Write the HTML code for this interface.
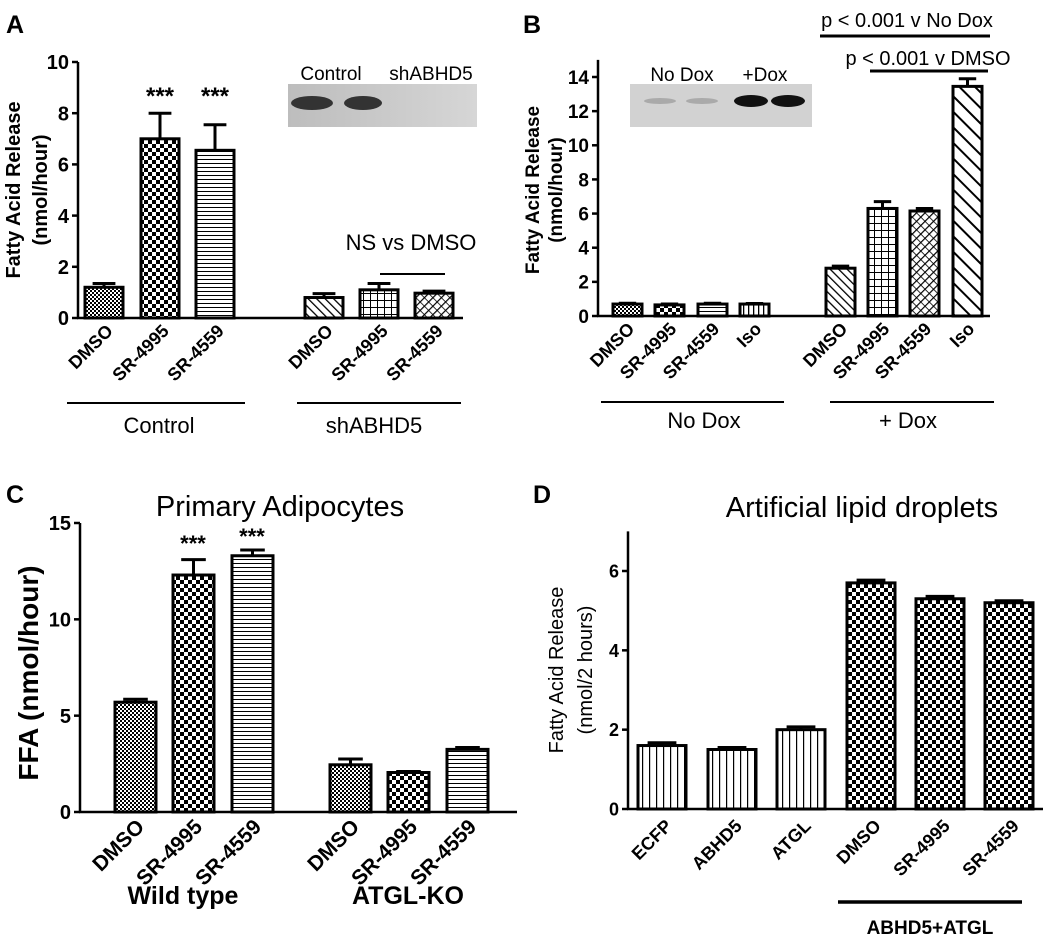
<!DOCTYPE html>
<html><head><meta charset="utf-8">
<style>
html,body{margin:0;padding:0;background:#fff;}
svg{display:block;font-family:"Liberation Sans",Arial,sans-serif;}
</style></head>
<body>
<svg id="fig" width="1050" height="939" viewBox="0 0 1050 939" xmlns="http://www.w3.org/2000/svg">
<defs>
<pattern id="pSmallCheck" width="4" height="4" patternUnits="userSpaceOnUse"><rect width="4" height="4" fill="#fff"/><rect width="2" height="2" fill="#000"/><rect x="2" y="2" width="2" height="2" fill="#000"/></pattern>
<pattern id="pBigCheck" width="8" height="8" patternUnits="userSpaceOnUse"><rect width="8" height="8" fill="#fff"/><rect width="4" height="4" fill="#000"/><rect x="4" y="4" width="4" height="4" fill="#000"/></pattern>
<pattern id="pHLines" width="4" height="4" patternUnits="userSpaceOnUse"><rect width="4" height="4" fill="#fff"/><rect y="3" width="4" height="1" fill="#000"/></pattern>
<pattern id="pVLines" width="7" height="7" patternUnits="userSpaceOnUse"><rect width="7" height="7" fill="#fff"/><rect x="5" width="1.2" height="7" fill="#000"/></pattern>
<pattern id="pVLinesB" width="5" height="5" patternUnits="userSpaceOnUse"><rect width="5" height="5" fill="#fff"/><rect x="3" width="1.3" height="5" fill="#000"/></pattern>
<pattern id="pDiagDown" width="6" height="6" patternUnits="userSpaceOnUse" patternTransform="rotate(-45)"><rect width="6" height="6" fill="#fff"/><rect width="1.3" height="6" fill="#000"/></pattern>
<pattern id="pDiagBig" width="11" height="11" patternUnits="userSpaceOnUse" patternTransform="rotate(-45)"><rect width="11" height="11" fill="#fff"/><rect width="2" height="11" fill="#000"/></pattern>
<pattern id="pCross" width="6" height="6" patternUnits="userSpaceOnUse" patternTransform="rotate(45)"><rect width="6" height="6" fill="#fff"/><rect width="1.2" height="6" fill="#000"/><rect width="6" height="0.8" fill="#000"/></pattern>
<pattern id="pGrid" width="7" height="7" patternUnits="userSpaceOnUse"><rect width="7" height="7" fill="#fff"/><rect x="6" width="1.2" height="7" fill="#000"/><rect y="6" width="7" height="1.2" fill="#000"/></pattern>
<linearGradient id="blotA" x1="0" x2="1" y1="0" y2="0"><stop offset="0" stop-color="#bdbdbd"/><stop offset="1" stop-color="#d6d6d6"/></linearGradient>
</defs>
<g id="layer"></g>
</svg>
<script>
// ---- Panel A data ----
const aCats = ["DMSO","SR-4995","SR-4559","DMSO","SR-4995","SR-4559"];
const aVals = [1.2, 7.0, 6.55, 0.8, 1.1, 0.97];
const aErrs = [0.15, 1.0, 1.0, 0.15, 0.25, 0.08];
const aTicks = [0,2,4,6,8,10];
// ---- Panel B data ----
const bCats = ["DMSO","SR-4995","SR-4559","Iso","DMSO","SR-4995","SR-4559","Iso"];
const bVals = [0.7, 0.65, 0.7, 0.7, 2.8, 6.3, 6.15, 13.45];
const bErrs = [0.05, 0.05, 0.05, 0.03, 0.12, 0.4, 0.15, 0.45];
const bTicks = [0,2,4,6,8,10,12,14];
// ---- Panel C data ----
const cCats = ["DMSO","SR-4995","SR-4559","DMSO","SR-4995","SR-4559"];
const cVals = [5.7, 12.3, 13.3, 2.45, 2.05, 3.25];
const cErrs = [0.15, 0.8, 0.3, 0.3, 0.05, 0.1];
const cTicks = [0,5,10,15];
// ---- Panel D data ----
const dCats = ["ECFP","ABHD5","ATGL","DMSO","SR-4995","SR-4559"];
const dVals = [1.6, 1.5, 2.0, 5.7, 5.3, 5.2];
const dErrs = [0.07, 0.05, 0.07, 0.07, 0.06, 0.05];
const dTicks = [0,2,4,6];

const NS = "http://www.w3.org/2000/svg";
const layer = document.getElementById('layer');
function el(tag, attrs, parent, text){
  const e = document.createElementNS(NS, tag);
  for (const k in attrs) e.setAttribute(k, attrs[k]);
  if (text !== undefined) e.textContent = text;
  (parent || layer).appendChild(e);
  return e;
}
function txt(x,y,s,size,weight,anchor,name,rot){
  const t = el('text',{x:x,y:y,'font-size':size,'font-weight':weight||'normal','text-anchor':anchor||'middle'},null,s);
  if (rot!==undefined) t.setAttribute('transform','rotate('+rot+' '+x+' '+y+')');
  
  
  return t;
}
function line(x1,y1,x2,y2,w,name){
  const l = el('line',{x1:x1,y1:y1,x2:x2,y2:y2,stroke:'#000','stroke-width':w});
  
  
  return l;
}

function panel(o){
  const yScale = v => o.y0 - v * (o.y0 - o.yTop) / o.vTop;
  line(o.ax, yScale(o.axisMax), o.ax, o.y0+1, 2.5, o.id+'-y-axis');
  line(o.ax-1, o.y0, o.axEnd, o.y0, 2.5, o.id+'-x-axis');
  o.ticks.forEach(t=>{
    line(o.ax-6, yScale(t), o.ax, yScale(t), 2.5, o.id+'-y-tick');
    txt(o.ax-9, yScale(t)+o.tickSize*0.36, String(t), o.tickSize, 'bold', 'end', o.id+'-y-tick-label');
  });
  o.vals.forEach((v,i)=>{
    const x0 = o.bx[i], w = o.bw;
    const cx = x0 + w/2;
    const ye = yScale(v + o.errs[i]);
    line(cx, ye, cx, yScale(v), 3, o.id+'-error-bar');
    line(cx - w*0.3, ye, cx + w*0.3, ye, 3, o.id+'-error-cap');
    const r = el('rect',{x:x0, y:yScale(v), width:w, height:o.y0-yScale(v), fill:'url(#'+o.fills[i]+')', stroke:'#000','stroke-width':3});
    
    
    txt(cx+o.lblDx, o.y0+o.lblDy, o.cats[i], o.lblSize, 'bold', 'end', o.id+'-x-label', -45);
  });
  return yScale;
}

// Panel A
txt(6,33,'A',25,'bold','start','panel-a-letter');
panel({id:'a', ax:78, axEnd:463, y0:318, yTop:62, vTop:10, axisMax:10, ticks:aTicks, tickSize:20,
  vals:aVals, errs:aErrs, cats:aCats, bx:[85,141,196,305,360,415], bw:38,
  fills:['pSmallCheck','pBigCheck','pHLines','pDiagDown','pGrid','pCross'], lblDx:10, lblDy:14, lblSize:18});
txt(20,190,'Fatty Acid Release',20,'bold','middle','a-y-axis-title',-90);
txt(47,190,'(nmol/hour)',20,'bold','middle','a-y-axis-subtitle',-90);
[141,196].forEach(x=>txt(x+19, 104,'***',24,'bold','middle','a-significance-stars'));
let r = el('rect',{x:288,y:84,width:189,height:43,fill:'url(#blotA)'});
 
[[312,21],[363,19]].forEach(b=>{const e=el('ellipse',{cx:b[0],cy:103,rx:b[1],ry:7,fill:'#333'});});
txt(331,80,'Control',19,'normal','middle','a-blot-label-control');
txt(431,80,'shABHD5',19,'normal','middle','a-blot-label-shabhd5');
txt(411,250,'NS vs DMSO',22,'normal','middle','a-ns-label');
line(380,274,445,274,2,'a-ns-bracket');
line(67,403,245,403,2,'a-group-line-control');
line(297,403,461,403,2,'a-group-line-shabhd5');
txt(159,433,'Control',22,'normal','middle','a-group-label-control');
txt(374,433,'shABHD5',22,'normal','middle','a-group-label-shabhd5');

// Panel B
txt(523,33,'B',25,'bold','start','panel-b-letter');
panel({id:'b', ax:598, axEnd:990, y0:316, yTop:77, vTop:14, axisMax:15, ticks:bTicks, tickSize:19,
  vals:bVals, errs:bErrs, cats:bCats, bx:[613,655,698,740,826,868,910,953], bw:29,
  fills:['pSmallCheck','pBigCheck','pHLines','pVLinesB','pDiagDown','pGrid','pCross','pDiagBig'], lblDx:8, lblDy:14, lblSize:18});
txt(539,190,'Fatty Acid Release',19,'bold','middle','b-y-axis-title',-90);
txt(562,190,'(nmol/hour)',19,'bold','middle','b-y-axis-subtitle',-90);
r = el('rect',{x:630,y:84,width:182,height:43,fill:'#d2d2d2'});
 
[[660,16,'#aaa',3],[702,16,'#aaa',3],[751,17,'#111',6],[788,17,'#111',6]].forEach(b=>{const e=el('ellipse',{cx:b[0],cy:101,rx:b[1],ry:b[3],fill:b[2]});});
txt(682,81,'No Dox',19,'normal','middle','b-blot-label-nodox');
txt(765,81,'+Dox',19,'normal','middle','b-blot-label-dox');
txt(907,27,'p < 0.001 v  No Dox',20,'normal','middle','b-pvalue-nodox');
line(820,36,990,36,3,'b-bracket-nodox');
txt(928,65,'p < 0.001 v  DMSO',20,'normal','middle','b-pvalue-dmso');
line(870,71,988,71,3,'b-bracket-dmso');
line(601,402,784,402,2,'b-group-line-nodox');
line(830,402,994,402,2,'b-group-line-dox');
txt(704,428,'No Dox',22,'normal','middle','b-group-label-nodox');
txt(908,428,'+ Dox',22,'normal','middle','b-group-label-dox');

// Panel C
txt(6,503,'C',25,'bold','start','panel-c-letter');
panel({id:'c', ax:80, axEnd:517, y0:812, yTop:523, vTop:15, axisMax:15, ticks:cTicks, tickSize:20,
  vals:cVals, errs:cErrs, cats:cCats, bx:[115,173,232,330,388,447], bw:41,
  fills:['pSmallCheck','pBigCheck','pHLines','pSmallCheck','pBigCheck','pHLines'], lblDx:10, lblDy:16, lblSize:21});
txt(280,516,'Primary Adipocytes',29,'normal','middle','c-chart-title');
txt(38,673,'FFA (nmol/hour)',28,'bold','middle','c-y-axis-title',-90);
txt(193,551,'***',22,'bold','middle','c-significance-stars');
txt(252,544,'***',22,'bold','middle','c-significance-stars');
txt(183,904,'Wild type',25,'bold','middle','c-group-label-wildtype');
txt(408,904,'ATGL-KO',25,'bold','middle','c-group-label-atglko');

// Panel D
txt(533,503,'D',25,'bold','start','panel-d-letter');
panel({id:'d', ax:628, axEnd:1043, y0:809, yTop:571, vTop:6, axisMax:7, ticks:dTicks, tickSize:18,
  vals:dVals, errs:dErrs, cats:dCats, bx:[638,708,777,847,916,985], bw:48,
  fills:['pVLines','pVLines','pVLines','pBigCheck','pBigCheck','pBigCheck'], lblDx:11, lblDy:18, lblSize:18});
txt(862,517,'Artificial lipid droplets',29,'normal','middle','d-chart-title');
txt(563,670,'Fatty Acid Release',20,'normal','middle','d-y-axis-title',-90);
txt(592,670,'(nmol/2 hours)',20,'normal','middle','d-y-axis-subtitle',-90);
line(838,902,1022,902,3.5,'d-group-line');
txt(930,934,'ABHD5+ATGL',19,'bold','middle','d-group-label');
</script>
</body></html>
